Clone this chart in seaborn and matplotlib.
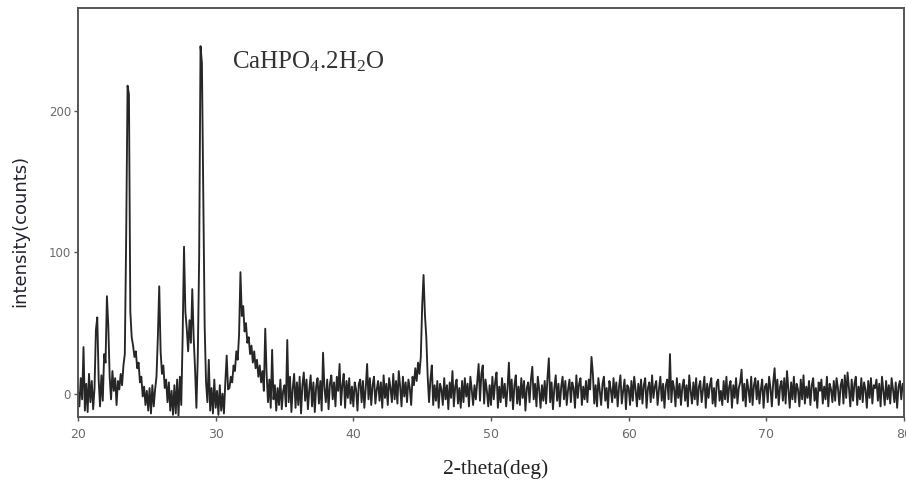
import numpy as np
import pandas as pd
import matplotlib
matplotlib.use("Agg")
import matplotlib.pyplot as plt
import seaborn as sns

# Powder XRD scan, 2-theta 20-80 deg in 0.1 deg steps (one row per degree)
two_theta = np.round(np.linspace(20.0, 80.0, 601), 1)
intensity = [
    2, -9, 11, -4, 33, -12, 7, -13, 14, -6,          # 20
    9, -11, 4, 45, 54, 10, -9, 13, -5, 28,           # 21
    22, 69, 48, 12, -4, 16, 2, 11, -8, 9,            # 22
    3, 14, 6, 20, 28, 112, 218, 212, 58, 40,         # 23
    34, 26, 30, 18, 22, 8, 12, -2, 5, -8,            # 24
    2, -12, 4, -14, 6, -9, 3, 12, 40, 76,            # 25
    30, 14, 20, 4, 10, -6, 8, -12, 2, -15,           # 26
    6, -14, 10, -16, 12, -8, 40, 104, 58, 46,        # 27
    30, 52, 36, 74, 40, 18, -10, 26, 96, 246,        # 28
    234, 140, 48, 8, -6, 24, -12, 4, -14, 10,        # 29
    -10, 2, -15, 6, -12, 0, -14, 8, 27, 3,           # 30
    4, 12, 8, 20, 16, 30, 24, 42, 86, 55,            # 31
    62, 44, 50, 36, 40, 28, 34, 22, 30, 18,          # 32
    24, 12, 20, 8, 16, 2, 46, 14, -6, 10,            # 33
    -10, 31, -4, 6, -12, 4, -8, 10, -11, 2,          # 34
    6, -9, 38, -6, 12, -13, 4, 14, -10, 8,           # 35
    -8, 12, -14, 6, 15, -5, 10, -11, 3, 13,          # 36
    -9, 8, -13, 5, 11, -7, 9, -12, 29, 4,            # 37
    -6, 10, -11, 7, 13, -4, 8, -9, 12, 2,            # 38
    21, -8, 6, 14, -10, 9, -3, 11, -7, 5,            # 39
    -9, 8, 3, -12, 7, 10, -6, 9, -10, 4,             # 40
    21, -4, 11, -8, 6, 12, -7, 3, 9, -5,             # 41
    8, -10, 13, -3, 7, -8, 11, 4, -6, 14,            # 42
    -4, 9, -7, 16, 5, -9, 12, -2, 8, -6,             # 43
    10, 4, -8, 12, 6, 18, 9, 22, 14, 26,             # 44
    62, 84, 56, 40, 12, -6, 10, 20, -8, 6,           # 45
    -5, 9, -10, 7, 3, -8, 11, -4, 6, -11,            # 46
    8, -3, 16, -9, 5, 10, -7, 4, -10, 9,             # 47
    -6, 11, -2, 7, -9, 12, 3, -8, 6, -4,             # 48
    9, 21, -5, 14, 20, -7, 10, 2, -9, 6,             # 49
    -8, 12, -4, 8, 15, -10, 5, -6, 11, -3,           # 50
    7, -9, 4, 22, -5, 10, -11, 6, 13, -7,            # 51
    5, -8, 11, -3, 9, -12, 4, 8, -6, 10,             # 52
    19, -4, 7, -9, 12, 3, -10, 6, -5, 9,             # 53
    -7, 11, 25, -6, 8, -11, 4, 13, -5, 7,            # 54
    -9, 5, 12, -4, 9, -8, 3, 10, -6, 8,              # 55
    4, -10, 13, -3, 7, 11, -8, 5, -4, 9,             # 56
    -6, 10, 3, 26, 14, -7, 6, -9, 11, 2,             # 57
    -8, 7, 12, -5, 4, -10, 9, 3, -6, 11,             # 58
    -3, 8, -9, 5, 13, -7, 2, 10, -11, 6,             # 59
    4, -8, 9, -5, 12, 3, -9, 7, -4, 10,              # 60
    -7, 6, 11, -10, 4, 8, -6, 13, -3, 5,             # 61
    9, -8, 3, 12, -5, 7, -10, 6, 10, -4,             # 62
    28, -6, 9, 4, -9, 11, -3, 7, -8, 5,              # 63
    10, -5, 6, -9, 13, 2, -7, 8, -4, 11,             # 64
    -8, 5, 9, -6, 3, 12, -10, 7, -3, 6,              # 65
    11, -7, 4, -9, 8, 10, -5, 2, -8, 9,              # 66
    -4, 12, -6, 5, 9, -10, 6, -3, 11, -7,            # 67
    4, 8, 17, -5, 7, -9, 10, 3, -6, 12,              # 68
    -8, 6, 11, -4, 9, -7, 3, 10, -10, 5,             # 69
    7, -6, 12, 4, -9, 8, 18, -3, 10, -8,             # 70
    5, 9, -5, 11, -7, 16, 3, -10, 8, -4,             # 71
    12, -6, 7, 3, -9, 10, -4, 13, -7, 5,             # 72
    -3, 9, -8, 6, 11, -5, 4, -10, 8, 2,              # 73
    10, -7, 5, -4, 12, -9, 7, 3, -6, 9,              # 74
    -5, 11, 4, -8, 6, 10, -7, 13, -3, 15,            # 75
    4, -9, 10, -5, 7, 12, -8, 5, -4, 11,             # 76
    -6, 8, 3, -10, 9, -3, 11, -7, 6, 4,              # 77
    10, -5, 7, -9, 12, 2, -8, 9, -4, 6,              # 78
    -7, 11, 3, -6, 8, -10, 5, 9, -4, 7,              # 79
    2,                                               # 80
]

x_ticks = [20, 30, 40, 50, 60, 70, 80]
y_ticks = [0, 100, 200]
phase_label = r"CaHPO$_\mathrm{4}$.2H$_\mathrm{2}$O"

df = pd.DataFrame({"two_theta": two_theta, "intensity": intensity})

sns.set_style("ticks")
plt.rcParams["mathtext.fontset"] = "custom"
plt.rcParams["mathtext.rm"] = "Liberation Serif"
plt.rcParams["mathtext.it"] = "Liberation Serif:italic"

fig = plt.figure(figsize=(9.06, 4.86), dpi=100)
ax = fig.add_axes([0.0861, 0.142, 0.9117, 0.8415])

sns.lineplot(data=df, x="two_theta", y="intensity", ax=ax,
             color="#262626", linewidth=1.35, estimator=None, sort=False)

ax.set_xlim(20, 80)
ax.set_ylim(-16.5, 273)
ax.set_xticks(x_ticks)
ax.set_yticks(y_ticks)
ax.tick_params(axis="both", direction="out", length=3, width=1,
               color="#555555", labelcolor="#6a6a6a", labelsize=8.5, pad=2)
ax.tick_params(axis="x", pad=5, labelsize=9)
for side in ["left", "right", "top", "bottom"]:
    ax.spines[side].set_visible(True)
    ax.spines[side].set_color("#555555")
    ax.spines[side].set_linewidth(1.4)

ax.set_xlabel("2-theta(deg)", family="Liberation Serif", fontsize=15.5,
              color="#222222")
ax.xaxis.set_label_coords(0.505, -0.103)
ax.set_ylabel("intensity(counts)", family="DejaVu Sans", fontsize=13,
              color="#222233")
ax.yaxis.set_label_coords(-0.059, 0.455)

ax.text(31.15, 230, phase_label, family="Liberation Serif", fontsize=18,
        color="#333333", ha="left", va="baseline")

fig.savefig("out.png", dpi=100, facecolor="white")
